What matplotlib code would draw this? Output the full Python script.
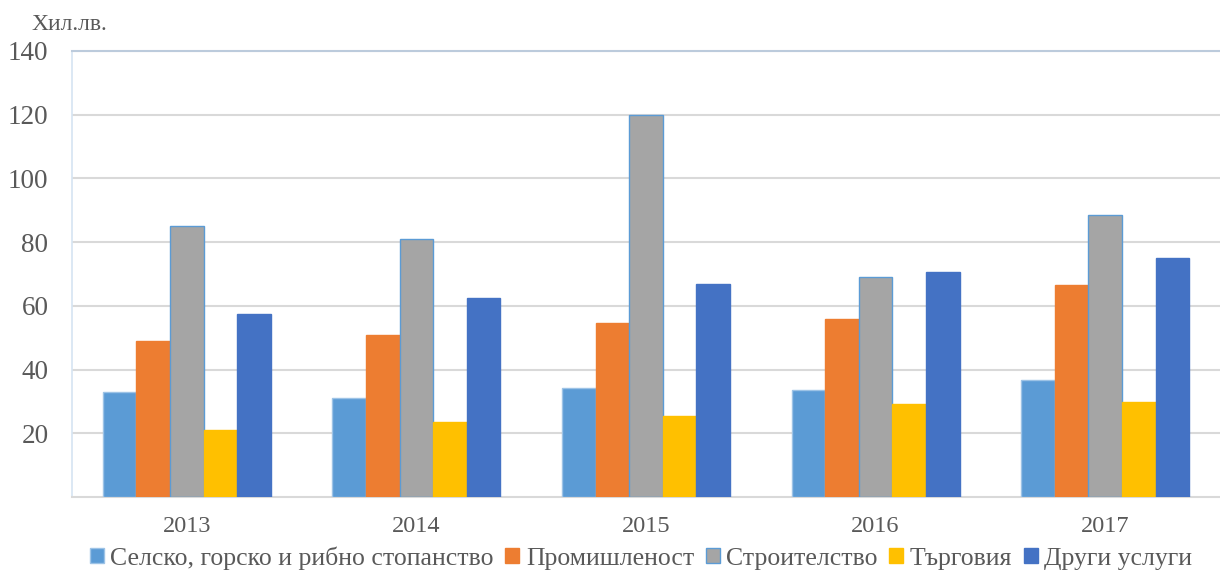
import matplotlib
matplotlib.use("Agg")
import matplotlib.pyplot as plt
import numpy as np
from matplotlib.patches import Patch

years = ["2013", "2014", "2015", "2016", "2017"]
series = ["Селско, горско и рибно стопанство", "Промишленост", "Строителство", "Търговия", "Други услуги"]
agri = [32.9, 31.0, 34.1, 33.5, 36.7]
industry = [48.9, 50.8, 54.6, 55.8, 66.5]
construction = [85.0, 80.9, 119.9, 69.0, 88.5]
trade = [20.9, 23.5, 25.4, 29.1, 29.7]
other = [57.4, 62.6, 66.8, 70.6, 75.1]
yticks = [20, 40, 60, 80, 100, 120, 140]

values = [agri, industry, construction, trade, other]
colors = ["#5b9bd5", "#ed7d31", "#a5a5a5", "#ffc000", "#4472c4"]
edges = ["#9dc3e6", "#ed7d31", "#5b9bd5", "#ffc000", "#4472c4"]

plt.rcParams['font.family'] = ['Liberation Serif', 'DejaVu Serif']
txt = "#595959"

fig = plt.figure(figsize=(12.2, 5.72), dpi=100)
ax = fig.add_axes([72/1220, 1-497/572, 1-72/1220, (497-51)/572])

x = np.arange(len(years))
n = len(series)
bw = 168/229.6/n
for i, (vals, c, e) in enumerate(zip(values, colors, edges)):
    ax.bar(x + (i - (n-1)/2)*bw, vals, bw, color=c, edgecolor=e, linewidth=1.0, zorder=3)

ax.set_xlim(-0.5, len(years)-0.5)
ax.set_ylim(0, 140)
ax.set_yticks(yticks)
ax.set_yticklabels([str(t) for t in yticks], fontsize=19.5, color=txt)
ax.set_xticks(x)
ax.set_xticklabels(years, fontsize=17.5, color=txt)
ax.tick_params(length=0)
ax.tick_params(axis='y', pad=17)
ax.tick_params(axis='x', pad=14)
ax.grid(axis='y', color="#d9d9d9", linewidth=1.5, zorder=0)
ax.spines['right'].set_visible(False)
ax.spines['top'].set_color("#bccbdc")
ax.spines['top'].set_linewidth(1.5)
ax.spines['left'].set_color("#d6e4f2")
ax.spines['left'].set_linewidth(1.2)
ax.spines['bottom'].set_color("#d9d9d9")
ax.spines['bottom'].set_linewidth(1.5)

fig.text(31/1220, 1-25/572, "Хил.лв.", fontsize=17, color=txt, va='center', ha='left')

handles = [Patch(facecolor=c, edgecolor=e, label=s) for s, c, e in zip(series, colors, edges)]
fig.legend(handles=handles, loc='center', bbox_to_anchor=(641/1220, 1-558/572), ncol=5, frameon=False,
           fontsize=18.5, labelcolor=txt, handlelength=0.55, handleheight=0.55, handletextpad=0.25,
           columnspacing=0.45, borderaxespad=0)

fig.savefig("out.png", dpi=100)
